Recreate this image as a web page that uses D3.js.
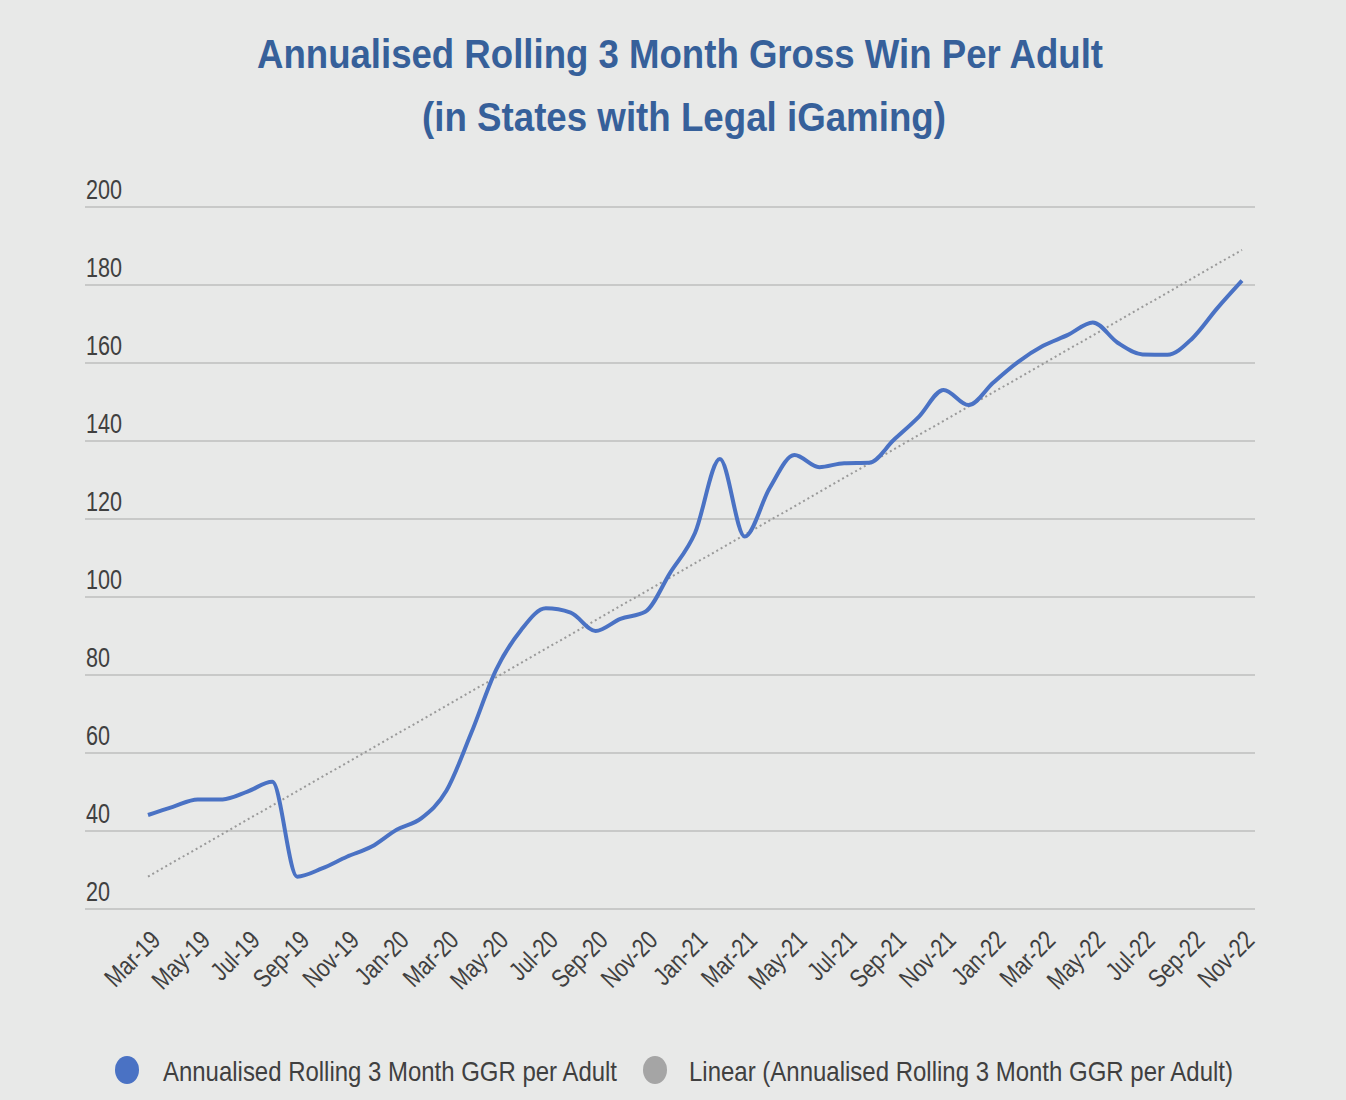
<!DOCTYPE html>
<html>
<head>
<meta charset="utf-8">
<script src="https://cdn.jsdelivr.net/npm/d3@7"></script>
<style>
  html, body { margin: 0; padding: 0; background: #e8e9e8; }
  svg { display: block; }
  text { font-family: "Liberation Sans", Arial, sans-serif; }
</style>
</head>
<body>
<svg id="chart" width="1346" height="1100"></svg>
<script>
// Month labels (one point per month)
const months = [
  "Mar-19","Apr-19","May-19","Jun-19","Jul-19","Aug-19","Sep-19","Oct-19","Nov-19","Dec-19",
  "Jan-20","Feb-20","Mar-20","Apr-20","May-20","Jun-20","Jul-20","Aug-20","Sep-20","Oct-20","Nov-20","Dec-20",
  "Jan-21","Feb-21","Mar-21","Apr-21","May-21","Jun-21","Jul-21","Aug-21","Sep-21","Oct-21","Nov-21","Dec-21",
  "Jan-22","Feb-22","Mar-22","Apr-22","May-22","Jun-22","Jul-22","Aug-22","Sep-22","Oct-22","Nov-22"
];

// Annualised rolling 3 month GGR per adult
const ggrPerAdult = [
  44.1, 46.2, 48.1, 48.1, 50.1, 52.6, 28.3, 30.4, 33.4, 36.0,
  40.3, 43.3, 50.3, 65.1, 81.3, 91.5, 97.1, 96.0, 91.3, 94.4, 96.2, 106.2,
  116.4, 135.4, 115.5, 127.9, 136.4, 133.3, 134.3, 134.4, 140.3, 146.2, 153.1, 149.2,
  155.0, 160.3, 164.4, 167.2, 170.4, 165.2, 162.2, 162.1, 166.3, 174.0, 181.1
];

// Linear trendline end values (first and last month)
const trendMonths = ["Mar-19", "Nov-22"];
const trendValues = [28.3, 189.0];

const yTicks = [20, 40, 60, 80, 100, 120, 140, 160, 180, 200];
const xTickLabels = months.filter((m, i) => i % 2 === 0);

const titleLines = ["Annualised Rolling 3 Month Gross Win Per Adult", "(in States with Legal iGaming)"];
const seriesName = "Annualised Rolling 3 Month GGR per Adult";
const trendName = "Linear (Annualised Rolling 3 Month GGR per Adult)";

const colors = {
  line: "#4a72c4",
  trend: "#9a9a9a",
  grid: "#c8c9c8",
  text: "#404040",
  title: "#36609a"
};

// narrow look: squeeze the sans font horizontally
const narrow = 0.8;

const svg = d3.select("#chart");

// Scales
const x = d3.scalePoint()
  .domain(months)
  .range([148, 1242]);

const y = d3.scaleLinear()
  .domain([20, 200])
  .range([909, 207]);

const gridLeft = 85, gridRight = 1255;

// Title (two lines, fitted to width)
const titleWidths = [846, 524];
svg.append("g").selectAll("text")
  .data(titleLines)
  .enter().append("text")
  .attr("x", (d, i) => i === 0 ? 680 : 684)
  .attr("y", (d, i) => i === 0 ? 68 : 131)
  .attr("text-anchor", "middle")
  .attr("fill", colors.title)
  .attr("font-size", 40)
  .attr("font-weight", "bold")
  .attr("textLength", (d, i) => titleWidths[i])
  .attr("lengthAdjust", "spacingAndGlyphs")
  .text(d => d);

// Gridlines + y labels
const yAxis = svg.append("g");
yAxis.selectAll("line")
  .data(yTicks)
  .enter().append("line")
  .attr("x1", gridLeft).attr("x2", gridRight)
  .attr("y1", d => y(d)).attr("y2", d => y(d))
  .attr("stroke", colors.grid)
  .attr("stroke-width", 2);

yAxis.selectAll("text")
  .data(yTicks)
  .enter().append("text")
  .attr("transform", d => `translate(${gridLeft + 1},${y(d) - 8}) scale(${narrow},1)`)
  .attr("fill", colors.text)
  .attr("font-size", 27)
  .text(d => d);

// X labels (every 2nd month, rotated)
svg.append("g").selectAll("text")
  .data(xTickLabels)
  .enter().append("text")
  .attr("transform", d => `translate(${x(d) + 1},${929}) rotate(-45) scale(${narrow},1)`)
  .attr("text-anchor", "end")
  .attr("dy", "0.7em")
  .attr("fill", colors.text)
  .attr("font-size", 26)
  .text(d => d);

// Trendline
svg.append("line")
  .attr("x1", x(trendMonths[0])).attr("y1", y(trendValues[0]))
  .attr("x2", x(trendMonths[1])).attr("y2", y(trendValues[1]))
  .attr("stroke", colors.trend)
  .attr("stroke-width", 2)
  .attr("stroke-dasharray", "2,3");

// Series line
const line = d3.line()
  .x((d, i) => x(months[i]))
  .y(d => y(d))
  .curve(d3.curveMonotoneX);

svg.append("path")
  .datum(ggrPerAdult)
  .attr("d", line)
  .attr("fill", "none")
  .attr("stroke", colors.line)
  .attr("stroke-width", 4)
  .attr("stroke-linejoin", "round");

// Legend
const legend = [
  { name: seriesName, color: colors.line, cx: 127, tx: 163, w: 454 },
  { name: trendName, color: "#a5a5a5", cx: 655, tx: 689, w: 544 }
];
const lg = svg.append("g").selectAll("g")
  .data(legend)
  .enter().append("g");
lg.append("ellipse")
  .attr("cx", d => d.cx).attr("cy", 1070)
  .attr("rx", 12).attr("ry", 14)
  .attr("fill", d => d.color);
lg.append("text")
  .attr("x", d => d.tx).attr("y", 1081)
  .attr("fill", colors.text)
  .attr("font-size", 28)
  .attr("textLength", d => d.w)
  .attr("lengthAdjust", "spacingAndGlyphs")
  .text(d => d.name);
</script>
</body>
</html>
